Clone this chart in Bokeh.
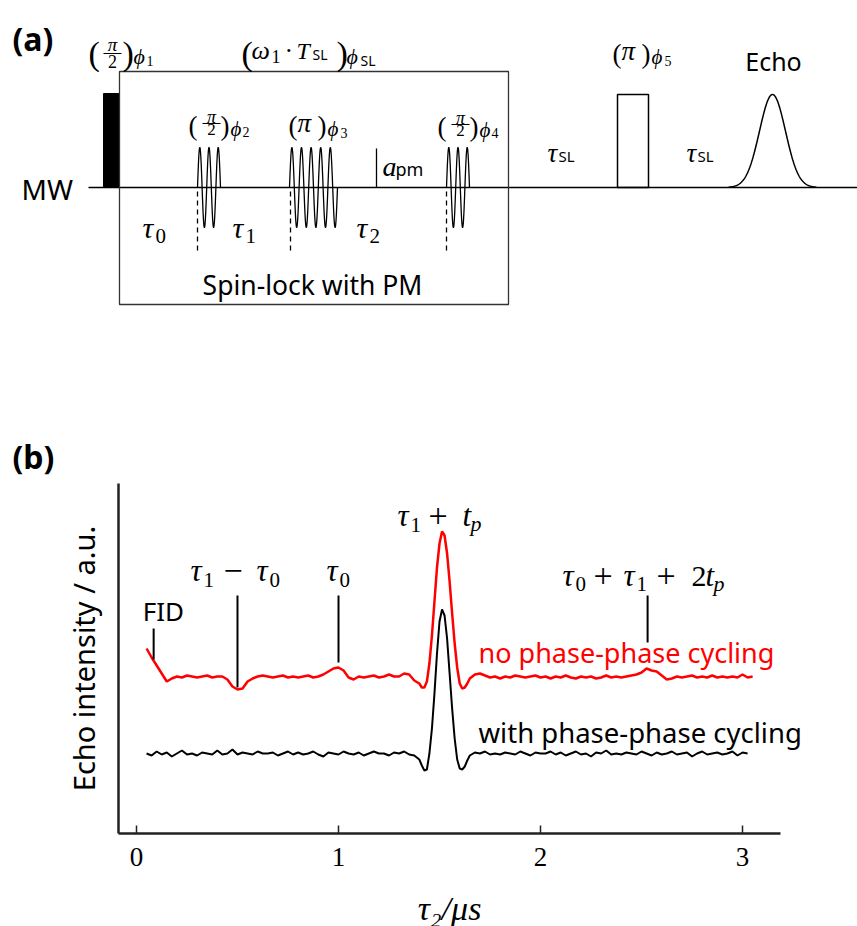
import numpy as np
from bokeh.plotting import figure
from bokeh.models import Range1d, FixedTicker
from bokeh.core.properties import value
from bokeh.embed import file_html
from bokeh.resources import INLINE

SANS = "Noto Sans"
SERIF = "Liberation Serif"
DESC = {SANS: 0.293, SERIF: 0.216}   # font descent (em), used to place baselines

# ---------------- data, panel (b) ----------------
tau2_a = [round(0.05 + 0.025 * k, 4) for k in range(54)]      # 0.05 .. 1.375
tau2_b = [round(1.40 + 0.0125 * k, 4) for k in range(20)]     # 1.40 .. 1.6375
tau2_c = [round(1.65 + 0.025 * k, 4) for k in range(57)]      # 1.65 .. 3.05
tau2 = tau2_a + tau2_b + tau2_c

no_cycling_a = [1.85, 1.76, 1.68, 1.60, 1.52, 1.55, 1.57, 1.56, 1.58, 1.57,
                1.56, 1.57, 1.58, 1.56, 1.57, 1.57, 1.54, 1.47, 1.44, 1.45,
                1.52, 1.55, 1.57, 1.58, 1.57, 1.56, 1.57, 1.58, 1.56, 1.57,
                1.56, 1.57, 1.58, 1.56, 1.57, 1.59, 1.62, 1.65, 1.66, 1.63,
                1.56, 1.54, 1.57, 1.56, 1.57, 1.58, 1.56, 1.57, 1.59, 1.57,
                1.57, 1.60, 1.59, 1.53]
no_cycling_b = [1.50, 1.46, 1.46, 1.52, 1.70, 1.98, 2.32, 2.66, 2.90, 3.02,
                2.98, 2.80, 2.52, 2.20, 1.90, 1.66, 1.50, 1.45, 1.46, 1.50]
no_cycling_c = [1.55, 1.59, 1.60, 1.58, 1.56, 1.57, 1.55, 1.57, 1.56, 1.58,
                1.57, 1.56, 1.57, 1.58, 1.56, 1.57, 1.55, 1.57, 1.56, 1.58,
                1.56, 1.55, 1.57, 1.56, 1.57, 1.55, 1.56, 1.58, 1.56, 1.57,
                1.56, 1.57, 1.58, 1.59, 1.61, 1.65, 1.63, 1.62, 1.58, 1.54,
                1.55, 1.57, 1.56, 1.57, 1.58, 1.56, 1.57, 1.56, 1.58, 1.56,
                1.57, 1.56, 1.57, 1.56, 1.59, 1.56, 1.57]
echo_no_cycling = no_cycling_a + no_cycling_b + no_cycling_c

with_cycling_a = [0.80, 0.78, 0.82, 0.79, 0.81, 0.77, 0.80, 0.83, 0.79, 0.80,
                  0.78, 0.81, 0.80, 0.79, 0.83, 0.79, 0.80, 0.84, 0.79, 0.81,
                  0.80, 0.79, 0.82, 0.80, 0.80, 0.81, 0.78, 0.80, 0.82, 0.79,
                  0.81, 0.79, 0.80, 0.82, 0.79, 0.77, 0.81, 0.80, 0.79, 0.82,
                  0.80, 0.79, 0.81, 0.78, 0.80, 0.82, 0.80, 0.80, 0.78, 0.81,
                  0.80, 0.82, 0.79, 0.78]
with_cycling_b = [0.74, 0.68, 0.63, 0.64, 0.80, 1.05, 1.40, 1.80, 2.12, 2.24,
                  2.18, 1.95, 1.60, 1.25, 0.95, 0.74, 0.65, 0.64, 0.67, 0.73]
with_cycling_c = [0.78, 0.81, 0.80, 0.82, 0.79, 0.80, 0.79, 0.81, 0.80, 0.79,
                  0.82, 0.80, 0.78, 0.81, 0.80, 0.80, 0.82, 0.79, 0.81, 0.78,
                  0.80, 0.82, 0.79, 0.80, 0.77, 0.81, 0.80, 0.83, 0.79, 0.80,
                  0.79, 0.81, 0.80, 0.79, 0.82, 0.80, 0.78, 0.81, 0.79, 0.80,
                  0.82, 0.79, 0.80, 0.81, 0.77, 0.80, 0.82, 0.79, 0.80, 0.81,
                  0.79, 0.80, 0.82, 0.78, 0.81, 0.80]
echo_with_cycling = with_cycling_a + with_cycling_b + with_cycling_c

tick_values = [0, 1, 2, 3]
axis_extent = (-0.089, 3.188)
x_label = "τ₂/μs"
# annotation markers: (x position in us, line bottom, line top)
marker_fid = (0.085, 1.74, 2.05)
marker_t1_t0 = (0.5, 1.46, 2.38)
marker_t0 = (1.0, 1.71, 2.38)
marker_t1_tp = 1.51
marker_sum = (2.53, 1.91, 2.38)


def put(p, x, y, s, size, font=SERIF, style="normal", color="black",
        dx=0, dy=0, align="left"):
    corr = DESC[font] * size
    p.text(x=[x], y=[y], text=[s], x_offset=dx, y_offset=dy - corr,
           text_font=value(font), text_font_size=f"{size}px",
           text_font_style=style, text_color=color,
           text_align=align, text_baseline="alphabetic")


def blank(h):
    f = figure(width=857, height=h, x_range=Range1d(0, 857), y_range=Range1d(h, 0),
               output_backend="svg", toolbar_location=None, title=None,
               x_axis_location=None, y_axis_location=None, min_border=0)
    f.grid.visible = False
    f.outline_line_color = None
    return f


# ---------------- panel (a): pulse scheme ----------------
top = blank(478)

BASE = 187
AMP = 40

top.line([88, 857], [BASE, BASE], line_width=1.5, color="black")
top.quad(left=[103], right=[119], top=[93], bottom=[BASE], fill_color="black", line_color="black")
top.quad(left=[119], right=[508], top=[71], bottom=[304], fill_color=None,
         line_color="#333333", line_width=1.3)

for (x0, x1, ncyc) in [(197, 220, 2.5), (289, 337, 5), (446, 469, 2.5)]:
    xs = np.linspace(x0, x1, 300)
    ys = BASE - AMP * np.sin(2 * np.pi * ncyc * (xs - x0) / (x1 - x0))
    top.line(xs, ys, line_width=1.3, color="black")

for xd in [197, 290, 446]:
    top.line([xd, xd], [191, 250], line_width=1.3, color="black", line_dash="5 4")

top.line([376, 376], [148, BASE], line_width=1.3, color="black")
top.quad(left=[617], right=[648], top=[94], bottom=[BASE], fill_color=None,
         line_color="black", line_width=1.5)
xe = np.linspace(728, 816, 200)
top.line(xe, BASE - 93 * np.exp(-0.5 * ((xe - 772) / 13.0) ** 2), line_width=1.5, color="black")

put(top, 12, 47, "(a)", 32, SANS, "bold")
put(top, 12, 465, "(b)", 32, SANS, "bold")
put(top, 21, 197, "MW", 28, SANS)
put(top, 312, 292, "Spin-lock with PM", 26.5, SANS, align="center")
put(top, 773, 68, "Echo", 25, SANS, align="center")

# (pi/2)_phi1
put(top, 88, 60, "(", 34)
put(top, 112, 48, "π", 19, style="italic", align="center")
top.line([103, 121], [53, 53], line_width=1.2, color="black")
put(top, 112, 65, "2", 18, align="center")
put(top, 122, 60, ")", 34)
put(top, 133, 61, "ϕ", 22, style="italic")
put(top, 146, 64, "1", 14)

# (omega_1 . T_SL)_phi_SL
put(top, 241, 60, "(", 34)
put(top, 251, 56, "ω", 26, style="italic")
put(top, 271, 60, "1", 18)
put(top, 284, 56, "·", 26)
put(top, 296, 56, "T", 24, style="italic")
put(top, 312, 58, "SL", 14, SANS)
put(top, 336, 60, ")", 34)
put(top, 346, 61, "ϕ", 22, style="italic")
put(top, 360, 64, "SL", 14, SANS)


def half_pi(x0, b, sub):
    put(top, x0, b, "(", 27)
    put(top, x0 + 23, b - 11, "π", 18, style="italic", align="center")
    top.line([x0 + 14, x0 + 32], [b - 8, b - 8], line_width=1.2, color="black")
    put(top, x0 + 23, b + 2, "2", 17, align="center")
    put(top, x0 + 32, b, ")", 27)
    put(top, x0 + 42, b + 2, "ϕ", 21, style="italic")
    put(top, x0 + 54, b + 4, sub, 14)


def full_pi(x0, b, sub):
    put(top, x0, b, "(", 27)
    put(top, x0 + 9, b - 3, "π", 27, style="italic")
    put(top, x0 + 29, b, ")", 27)
    put(top, x0 + 39, b + 2, "ϕ", 21, style="italic")
    put(top, x0 + 52, b + 5, sub, 14)


half_pi(188, 131, "2")
full_pi(288, 131, "3")
half_pi(437, 132, "4")
full_pi(612, 59, "5")

for (xt, sub) in [(142, "0"), (232, "1"), (356, "2")]:
    put(top, xt, 233, "τ", 30, style="italic")
    put(top, xt + 13, 240, sub, 21)

put(top, 382, 172, "a", 28, style="italic")
put(top, 395, 174, "pm", 18, SANS)
for xt in [547, 686]:
    put(top, xt, 158, "τ", 27, style="italic")
    put(top, xt + 11, 160, "SL", 15, SANS)

# ---------------- panel (b): echo traces ----------------
bot = figure(width=857, height=399, x_range=Range1d(-0.089, 3.569), y_range=Range1d(0, 3.5),
             output_backend="svg", toolbar_location=None, title=None,
             min_border_left=118, min_border_right=0, min_border_top=5, min_border_bottom=44)
bot.grid.visible = False
bot.outline_line_color = None

bot.xaxis.bounds = axis_extent
bot.xaxis.ticker = FixedTicker(ticks=tick_values)
bot.xaxis.minor_tick_line_color = None
bot.xaxis.major_tick_in = 8
bot.xaxis.major_tick_out = 0
bot.xaxis.major_tick_line_width = 1.5
bot.xaxis.major_tick_line_color = "#222222"
bot.xaxis.axis_line_width = 2.5
bot.xaxis.axis_line_color = "#222222"
bot.xaxis.major_label_text_font = SERIF
bot.xaxis.major_label_text_font_size = "27px"
bot.xaxis.major_label_text_color = "black"
bot.xaxis.major_label_standoff = 14

bot.yaxis.ticker = FixedTicker(ticks=[])
bot.yaxis.minor_tick_line_color = None
bot.yaxis.major_tick_in = 0
bot.yaxis.major_tick_out = 0
bot.yaxis.major_label_standoff = 0
bot.yaxis.axis_line_width = 2.5
bot.yaxis.axis_line_color = "#222222"
bot.yaxis.axis_label = "Echo intensity / a.u."
bot.yaxis.axis_label_text_font = SANS
bot.yaxis.axis_label_text_font_style = "normal"
bot.yaxis.axis_label_text_font_size = "29px"
bot.yaxis.axis_label_text_color = "black"
bot.yaxis.axis_label_standoff = 16

bot.line(tau2, echo_no_cycling, color="#ff0000", line_width=2.5)
bot.line(tau2[:len(echo_with_cycling)], echo_with_cycling, color="black", line_width=2)

for (mx, y0, y1) in [marker_fid, marker_t1_t0, marker_t0, marker_sum]:
    bot.segment(x0=[mx], y0=[y0], x1=[mx], y1=[y1], line_width=2, color="black")

# FID
put(bot, marker_fid[0], 2.15, "FID", 26, SANS, dx=-11)
# tau1 - tau0
ya = 2.56
mx = marker_t1_t0[0]
put(bot, mx, ya, "τ", 31, style="italic", dx=-47)
put(bot, mx, ya, "1", 21, dx=-34, dy=7)
put(bot, mx, ya, "−", 34, dx=-14, dy=1)
put(bot, mx, ya, "τ", 31, style="italic", dx=19)
put(bot, mx, ya, "0", 21, dx=32, dy=7)
# tau0
mx = marker_t0[0]
put(bot, mx, ya, "τ", 31, style="italic", dx=-12)
put(bot, mx, ya, "0", 21, dx=1, dy=7)
# tau1 + tp
yb = 3.11
mx = marker_t1_tp
put(bot, mx, yb, "τ", 31, style="italic", dx=-44)
put(bot, mx, yb, "1", 21, dx=-31, dy=7)
put(bot, mx, yb, "+", 34, dx=-13, dy=1)
put(bot, mx, yb, "t", 31, style="italic", dx=21)
put(bot, mx, yb, "p", 22, style="italic", dx=29, dy=6)
# tau0 + tau1 + 2tp
yc = 2.51
mx = marker_sum[0]
put(bot, mx, yc, "τ", 31, style="italic", dx=-85)
put(bot, mx, yc, "0", 21, dx=-72, dy=6)
put(bot, mx, yc, "+", 34, dx=-54, dy=1)
put(bot, mx, yc, "τ", 31, style="italic", dx=-24)
put(bot, mx, yc, "1", 21, dx=-11, dy=6)
put(bot, mx, yc, "+", 34, dx=9, dy=1)
put(bot, mx, yc, "2", 30, dx=44)
put(bot, mx, yc, "t", 31, style="italic", dx=58)
put(bot, mx, yc, "p", 22, style="italic", dx=66, dy=6)

put(bot, 1.693, 1.73, "no phase-phase cycling", 27, SANS, color="#ff0000")
put(bot, 1.693, 0.93, "with phase-phase cycling", 27.5, SANS)

# ---------------- x-axis title strip, centred under the axis ----------------
lab = blank(49)
put(lab, 449, 38, x_label, 34, style="italic", align="center")

open("out.html", "w").write(file_html([top, bot, lab], INLINE))
